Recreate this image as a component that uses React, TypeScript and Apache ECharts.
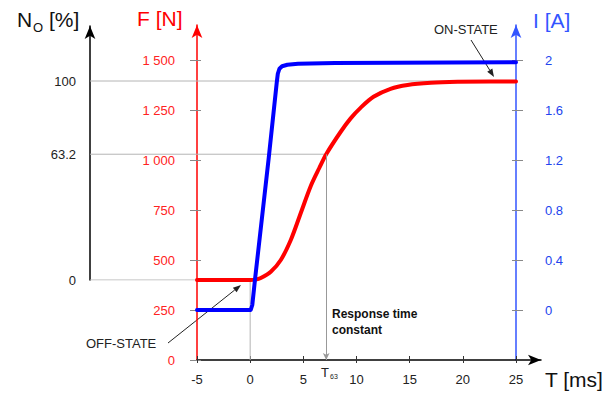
import React, { useEffect, useRef } from "react";
import * as echarts from "echarts";

// ---------- data ----------
const timeTicks = [-5, 0, 5, 10, 15, 20, 25];
const forceTicks = [0, 250, 500, 750, 1000, 1250, 1500];
const currentTicks = [0, 0.4, 0.8, 1.2, 1.6, 2];
const normTicks = [0, 63.2, 100];

const forceData: [number, number][] = [
  [-5, 400], [0, 400], [0.5, 402], [1.0, 410], [1.94, 441], [2.88, 500],
  [3.82, 600], [4.76, 735], [5.7, 870], [6.5, 960], [7.15, 1029],
  [8.5, 1140], [9.45, 1208], [10.4, 1262], [11.6, 1316], [13.2, 1356],
  [14.8, 1375], [17, 1386], [19.5, 1391], [22.6, 1393], [25, 1393],
];

const currentData: [number, number][] = [
  [-5, 0], [0.05, 0], [0.2, 0.04], [0.45, 0.24], [1.75, 1.22], [2.5, 1.82],
  [2.6, 1.89], [2.75, 1.93], [3.0, 1.95], [3.5, 1.962], [4.5, 1.97],
  [8, 1.976], [25, 1.982],
];

const F_OFF = 400;
const F_ON = 1395;
const T63 = 7.15;
const F63 = F_OFF + 0.632 * (F_ON - F_OFF);

// ---------- layout ----------
const PX_M5 = 197; // x pixel of t=-5
const PX_25 = 516; // x pixel of t=25
const PX_LEFT_N = 90; // black axis
const PX_XEND = 541; // end of x axis line
const PX_PER_MS = (PX_25 - PX_M5) / 30;
const X_MIN = -5;
const X_MAX = X_MIN + (PX_XEND - PX_M5) / PX_PER_MS;
const XN_MIN = X_MIN - (PX_M5 - PX_LEFT_N) / PX_PER_MS;

const Y_BASE = 360; // F = 0
const MAIN_TOP = 25;
const PX_PER_N = 0.2;
const F_MAX = (Y_BASE - MAIN_TOP) / PX_PER_N;
const PX_PER_A = 125;
const Y_I0 = 310;
const I_MIN = -(Y_BASE - Y_I0) / PX_PER_A;
const I_MAX = I_MIN + (Y_BASE - MAIN_TOP) / PX_PER_A;
const Y_N0 = Y_BASE - F_OFF * PX_PER_N;
const N_TOP = 26;
const PX_PER_PCT = ((F_ON - F_OFF) * PX_PER_N) / 100;
const N_MAX = (Y_N0 - N_TOP) / PX_PER_PCT;

const FONT = "'Liberation Sans', Arial, Helvetica, sans-serif";
const RED = "#ff0000";
const RED_TXT = "#ff2222";
const BLUE = "#0000ff";
const BLUE_AXIS = "#3355ff";
const BLUE_TXT = "#2244ee";
const GRAY = "#b4b4b4";

function fmtForce(v: number) {
  if (v >= 1000) {
    return `${Math.floor(v / 1000)} ${String(v % 1000).padStart(3, "0")}`;
  }
  return String(v);
}

function arrow(x1: number, y1: number, x2: number, y2: number, len = 8, w = 3) {
  const dx = x2 - x1;
  const dy = y2 - y1;
  const d = Math.sqrt(dx * dx + dy * dy);
  const ux = dx / d;
  const uy = dy / d;
  const bx = x2 - ux * len;
  const by = y2 - uy * len;
  return [
    {
      type: "line",
      shape: { x1, y1, x2: bx, y2: by },
      style: { stroke: "#222", lineWidth: 1 },
      silent: true,
    },
    {
      type: "polygon",
      shape: {
        points: [
          [x2, y2],
          [bx - uy * w, by + ux * w],
          [bx + uy * w, by - ux * w],
        ],
      },
      style: { fill: "#222" },
      silent: true,
    },
  ];
}

function txt(text: string, x: number, y: number, size: number, color: string, extra: any = {}) {
  return {
    type: "text",
    x,
    y,
    silent: true,
    style: {
      text,
      fontSize: size,
      fontFamily: FONT,
      fill: color,
      align: "left",
      verticalAlign: "middle",
      ...extra,
    },
  };
}

export default function App() {
  const ref = useRef<HTMLDivElement>(null);

  useEffect(() => {
    if (!ref.current) return;
    const chart = echarts.init(ref.current, null, { renderer: "svg" });
    const arrowSym = ["none", "arrow"];
    const arrowSize = [8, 13];

    const option: any = {
      animation: false,
      backgroundColor: "#ffffff",
      textStyle: { fontFamily: FONT },
      grid: [
        { left: PX_M5, top: MAIN_TOP, width: PX_XEND - PX_M5, height: Y_BASE - MAIN_TOP },
        { left: PX_LEFT_N, top: N_TOP, width: PX_XEND - PX_LEFT_N, height: Y_N0 - N_TOP },
      ],
      xAxis: [
        {
          type: "value",
          gridIndex: 0,
          min: X_MIN,
          max: X_MAX,
          interval: 5,
          axisLine: {
            onZero: false,
            lineStyle: { color: "#000", width: 1.5 },
            symbol: arrowSym,
            symbolSize: arrowSize,
          },
          axisTick: { show: true, customValues: timeTicks, length: 3, lineStyle: { color: "#333" } },
          axisLabel: {
            customValues: timeTicks,
            margin: 13,
            fontSize: 13,
            color: "#222",
            formatter: (v: number) => (timeTicks.includes(v) ? String(v) : ""),
          },
          splitLine: { show: false },
        },
        {
          type: "value",
          gridIndex: 0,
          min: X_MIN,
          max: X_MAX,
          interval: 5,
          position: "bottom",
          axisLine: { show: false, onZero: false },
          axisTick: { show: true, inside: true, customValues: timeTicks, length: 4, lineStyle: { color: "#333" } },
          axisLabel: { show: false },
          splitLine: { show: false },
        },
        {
          type: "value",
          gridIndex: 1,
          min: XN_MIN,
          max: X_MAX,
          show: false,
        },
      ],
      yAxis: [
        {
          type: "value",
          gridIndex: 0,
          position: "left",
          min: 0,
          max: F_MAX,
          interval: 250,
          axisLine: {
            show: true,
            onZero: false,
            lineStyle: { color: RED, width: 1.5 },
            symbol: arrowSym,
            symbolSize: arrowSize,
          },
          axisTick: { show: true, customValues: forceTicks, length: 7, lineStyle: { color: "#888" } },
          axisLabel: {
            customValues: forceTicks,
            margin: 22,
            fontSize: 13,
            color: RED_TXT,
            formatter: (v: number) => (forceTicks.includes(v) ? fmtForce(v) : ""),
          },
          splitLine: { show: false },
        },
        {
          type: "value",
          gridIndex: 0,
          position: "left",
          min: 0,
          max: F_MAX,
          interval: 250,
          axisLine: { show: false, onZero: false },
          axisTick: { show: true, inside: true, customValues: forceTicks, length: 4, lineStyle: { color: "#888" } },
          axisLabel: { show: false },
          splitLine: { show: false },
        },
        {
          type: "value",
          gridIndex: 0,
          position: "right",
          offset: -(PX_XEND - PX_25),
          min: I_MIN,
          max: I_MAX,
          interval: 0.4,
          axisLine: {
            show: true,
            onZero: false,
            lineStyle: { color: BLUE_AXIS, width: 1.5 },
            symbol: arrowSym,
            symbolSize: arrowSize,
          },
          axisTick: { show: true, customValues: currentTicks, length: 7, lineStyle: { color: "#888" } },
          axisLabel: {
            customValues: currentTicks,
            margin: 29,
            fontSize: 13,
            color: BLUE_TXT,
            formatter: (v: number) => {
              const r = Math.round(v * 10) / 10;
              return currentTicks.includes(r) && r >= 0 ? String(r) : "";
            },
          },
          splitLine: { show: false },
        },
        {
          type: "value",
          gridIndex: 0,
          position: "right",
          offset: -(PX_XEND - PX_25),
          min: I_MIN,
          max: I_MAX,
          interval: 0.4,
          axisLine: { show: false, onZero: false },
          axisTick: { show: true, inside: true, customValues: currentTicks, length: 4, lineStyle: { color: "#888" } },
          axisLabel: { show: false },
          splitLine: { show: false },
        },
        {
          type: "value",
          gridIndex: 1,
          position: "left",
          min: 0,
          max: N_MAX,
          axisLine: {
            show: true,
            onZero: false,
            lineStyle: { color: "#000", width: 1.5 },
            symbol: arrowSym,
            symbolSize: arrowSize,
          },
          axisTick: { show: false },
          axisLabel: {
            customValues: normTicks,
            margin: 14,
            fontSize: 13,
            color: "#222",
            formatter: (v: number) => (normTicks.includes(v) ? String(v) : ""),
          },
          splitLine: { show: false },
        },
      ],
      series: [
        {
          type: "line",
          xAxisIndex: 2,
          yAxisIndex: 4,
          data: [[XN_MIN, 100], [25, 100]],
          symbol: "none",
          silent: true,
          lineStyle: { color: GRAY, width: 1 },
          z: 1,
        },
        {
          type: "line",
          xAxisIndex: 2,
          yAxisIndex: 4,
          data: [[XN_MIN, 63.2], [T63, 63.2]],
          symbol: "none",
          silent: true,
          lineStyle: { color: GRAY, width: 1 },
          z: 1,
        },
        {
          type: "line",
          xAxisIndex: 2,
          yAxisIndex: 4,
          data: [[XN_MIN, 0], [0, 0]],
          symbol: "none",
          silent: true,
          lineStyle: { color: GRAY, width: 1 },
          z: 1,
        },
        {
          type: "line",
          xAxisIndex: 0,
          yAxisIndex: 0,
          data: [[0, 0], [0, F_OFF]],
          symbol: "none",
          silent: true,
          lineStyle: { color: GRAY, width: 1 },
          z: 1,
        },
        {
          type: "line",
          xAxisIndex: 0,
          yAxisIndex: 0,
          data: [],
          silent: true,
          z: 1,
          markLine: {
            silent: true,
            symbol: ["none", "arrow"],
            symbolSize: [5, 7],
            label: { show: false },
            lineStyle: { color: "#999", width: 1, type: "solid" },
            data: [[{ coord: [T63, F63] }, { coord: [T63, 0] }]],
          },
        },
        {
          name: "F",
          type: "line",
          xAxisIndex: 0,
          yAxisIndex: 0,
          data: forceData,
          symbol: "none",
          smooth: 0.3,
          lineStyle: { color: RED, width: 4, cap: "round", join: "round" },
          z: 3,
        },
        {
          name: "I",
          type: "line",
          xAxisIndex: 0,
          yAxisIndex: 2,
          data: currentData,
          symbol: "none",
          lineStyle: { color: BLUE, width: 4, cap: "round", join: "round" },
          z: 4,
        },
      ],
      graphic: [
        txt("N", 17, 19, 21, "#111"),
        txt("O", 33, 27, 13, "#111"),
        txt("[%]", 49, 19, 21, "#111"),
        txt("F [N]", 137, 18, 21, RED),
        txt("I [A]", 533, 20, 21, BLUE_AXIS),
        txt("T [ms]", 545, 379, 21, "#111"),
        txt("ON-STATE", 434, 29, 13, "#222"),
        txt("OFF-STATE", 86, 343.5, 13, "#222"),
        txt("Response time", 332, 314, 12, "#111", { fontWeight: "bold" }),
        txt("constant", 332, 330, 12, "#111", { fontWeight: "bold" }),
        txt("T", 321, 372, 13, "#222"),
        txt("63", 330, 376, 7, "#222"),
        ...arrow(471, 40, 494, 77),
        ...arrow(168, 343, 241, 285),
      ],
    };

    chart.setOption(option);
    return () => chart.dispose();
  }, []);

  return (
    <div
      ref={ref}
      style={{ position: "fixed", left: 0, top: 0, width: 612, height: 393, background: "#fff" }}
    />
  );
}
